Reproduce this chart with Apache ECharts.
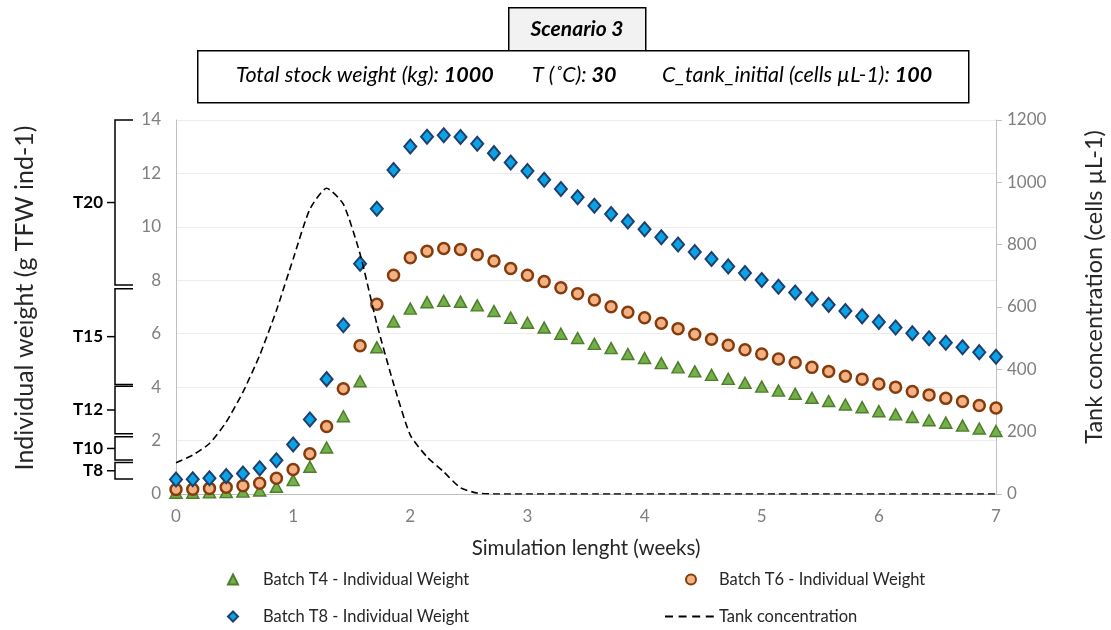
<!DOCTYPE html>
<html>
<head>
<meta charset="utf-8">
<script src="https://cdn.jsdelivr.net/npm/echarts@6/dist/echarts.min.js"></script>
<style>
  html, body { margin: 0; padding: 0; background: #ffffff; }
  #chart { width: 1111px; height: 630px; }
</style>
</head>
<body>
<div id="chart"></div>
<script>
// Simulation day (one sample per day, 7 days per week)
const days = [0, 1, 2, 3, 4, 5, 6, 7, 8, 9, 10, 11, 12, 13, 14, 15, 16, 17, 18, 19,
  20, 21, 22, 23, 24, 25, 26, 27, 28, 29, 30, 31, 32, 33, 34, 35, 36, 37, 38, 39,
  40, 41, 42, 43, 44, 45, 46, 47, 48, 49];

// Individual weight per batch (g TFW ind-1)
const batchT4 = [0.05, 0.05, 0.06, 0.07, 0.09, 0.13, 0.27, 0.52, 1.02, 1.74,
  2.91, 4.22, 5.49, 6.46, 6.94, 7.18, 7.23, 7.20, 7.06, 6.85,
  6.60, 6.41, 6.23, 6.00, 5.84, 5.62, 5.46, 5.24, 5.09, 4.90,
  4.74, 4.59, 4.46, 4.31, 4.16, 4.02, 3.87, 3.75, 3.60, 3.48,
  3.35, 3.25, 3.10, 2.98, 2.88, 2.76, 2.67, 2.56, 2.45, 2.36];
const batchT6 = [0.17, 0.18, 0.21, 0.25, 0.31, 0.40, 0.59, 0.92, 1.51, 2.53,
  3.94, 5.55, 7.10, 8.19, 8.84, 9.09, 9.19, 9.15, 8.96, 8.72,
  8.44, 8.19, 7.95, 7.72, 7.50, 7.26, 7.01, 6.80, 6.60, 6.39,
  6.19, 5.98, 5.79, 5.57, 5.40, 5.24, 5.05, 4.92, 4.74, 4.59,
  4.41, 4.30, 4.12, 4.00, 3.84, 3.71, 3.58, 3.46, 3.31, 3.22];
const batchT8 = [0.54, 0.55, 0.59, 0.67, 0.77, 0.96, 1.26, 1.85, 2.79, 4.30,
  6.32, 8.62, 10.68, 12.13, 13.01, 13.37, 13.43, 13.36, 13.11, 12.76,
  12.41, 12.09, 11.76, 11.42, 11.11, 10.79, 10.48, 10.20, 9.91, 9.61,
  9.34, 9.06, 8.80, 8.52, 8.27, 8.01, 7.76, 7.54, 7.29, 7.08,
  6.85, 6.65, 6.44, 6.23, 6.02, 5.83, 5.66, 5.49, 5.31, 5.14];

// Tank concentration (cells µL-1)
const tankConc = [100, 125, 162, 231, 327, 445, 589, 754, 914, 981,
  930, 770, 546, 354, 189, 119, 71, 20, 3, 0.5,
  0, 0, 0, 0, 0, 0, 0, 0, 0, 0,
  0, 0, 0, 0, 0, 0, 0, 0, 0, 0,
  0, 0, 0, 0, 0, 0, 0, 0, 0, 0];

// Size classes marked beside the weight axis (weight range of each class)
const sizeClasses = ['T20', 'T15', 'T12', 'T10', 'T8'];
const classTop = [14, 7.68, 4.03, 2.14, 1.18];
const classBottom = [7.82, 4.10, 2.26, 1.27, 0.56];

const FONT = 'Lato, "Open Sans", sans-serif';
const LABEL_GREY = '#7f7f7f';
const AXIS_GREY = '#bfbfbf';
const TEXT_DARK = '#262626';

const pairs = (ys) => days.map((d, i) => [d, ys[i]]);

// Bracket with a centre tick and class label, placed left of the weight axis
function renderBracket(params, api) {
  const top = api.coord([0, api.value(1)]);
  const bot = api.coord([0, api.value(2)]);
  const x0 = top[0];
  const barX = x0 - 61, hookX = x0 - 43, tickX = x0 - 69;
  const midY = (top[1] + bot[1]) / 2;
  return {
    type: 'group',
    children: [
      {
        type: 'polyline',
        shape: { points: [[hookX, top[1]], [barX, top[1]], [barX, bot[1]], [hookX, bot[1]]] },
        style: { stroke: '#000', lineWidth: 1.5, fill: null }
      },
      {
        type: 'line',
        shape: { x1: tickX, y1: midY, x2: barX, y2: midY },
        style: { stroke: '#000', lineWidth: 1.5 }
      },
      {
        type: 'text',
        x: tickX - 4, y: midY,
        style: {
          text: sizeClasses[params.dataIndex], align: 'right', verticalAlign: 'middle',
          fontFamily: FONT, fontWeight: 'bold', fontSize: 17, fill: '#000'
        }
      }
    ]
  };
}

const legendText = (padLeft) => ({
  fontFamily: FONT, fontSize: 16.5, color: TEXT_DARK, padding: [0, 0, 0, padLeft]
});
const legendBase = { orient: 'horizontal', padding: 0, itemHeight: 10, selectedMode: false };

const richTitle = {
  n: { fontFamily: FONT, fontSize: 21.5, fontStyle: 'italic', fill: '#000' },
  b: { fontFamily: FONT, fontSize: 21.5, fontStyle: 'italic', fontWeight: 'bold', fill: '#000' }
};

const chart = echarts.init(document.getElementById('chart'), null, { renderer: 'canvas' });
chart.setOption({
  animation: false,
  backgroundColor: '#ffffff',
  grid: { left: 176, right: 115, top: 120, bottom: 136, containLabel: false, outerBoundsMode: 'none' },
  graphic: [
    {
      type: 'rect', left: 508, top: 7,
      shape: { width: 137, height: 43 },
      style: { fill: '#f2f2f2', stroke: '#000', lineWidth: 1.5 }
    },
    {
      type: 'text', x: 577, y: 29,
      style: { text: 'Scenario 3', align: 'center', verticalAlign: 'middle',
        fontFamily: FONT, fontSize: 21, fontStyle: 'italic', fontWeight: 'bold', fill: '#000' }
    },
    {
      type: 'rect', left: 197, top: 50,
      shape: { width: 771, height: 52 },
      style: { fill: '#ffffff', stroke: '#000', lineWidth: 1.5 }
    },
    {
      type: 'text', x: 236, y: 75,
      style: { text: '{n|Total stock weight (kg): }{b|1000}', verticalAlign: 'middle', rich: richTitle }
    },
    {
      type: 'text', x: 532, y: 75,
      style: { text: '{n|T (˚C): }{b|30}', verticalAlign: 'middle', rich: richTitle }
    },
    {
      type: 'text', x: 662, y: 75,
      style: { text: '{n|C_tank_initial (cells µL-1): }{b|100}', verticalAlign: 'middle', rich: richTitle }
    }
  ],
  legend: [
    Object.assign({}, legendBase, { data: ['Batch T4 - Individual Weight'], left: 227, top: 571, itemWidth: 10, textStyle: legendText(20) }),
    Object.assign({}, legendBase, { data: ['Batch T6 - Individual Weight'], left: 685, top: 571, itemWidth: 10, textStyle: legendText(18) }),
    Object.assign({}, legendBase, { data: ['Batch T8 - Individual Weight'], left: 227, top: 608, itemWidth: 10, textStyle: legendText(20) }),
    Object.assign({}, legendBase, {
      data: [{ name: 'Tank concentration', lineStyle: { type: [8, 5.6] } }],
      left: 664, top: 608, itemWidth: 49, textStyle: legendText(0)
    })
  ],
  xAxis: {
    type: 'value', min: 0, max: 49, interval: 7,
    name: 'Simulation lenght (weeks)', nameLocation: 'middle', nameGap: 44,
    nameTextStyle: { fontFamily: FONT, fontSize: 20.5, color: TEXT_DARK },
    axisLine: { show: true, lineStyle: { color: AXIS_GREY, width: 1 } },
    axisTick: { show: false },
    splitLine: { show: false },
    axisLabel: { formatter: (v) => String(v / 7), fontFamily: FONT, fontSize: 17, color: LABEL_GREY, margin: 14 }
  },
  yAxis: [
    {
      type: 'value', min: 0, max: 14, interval: 2, position: 'left',
      name: 'Individual weight (g TFW ind-1)', nameLocation: 'middle', nameRotate: 90, nameGap: 139,
      nameTextStyle: { fontFamily: FONT, fontSize: 25, color: TEXT_DARK, padding: [0, 0, 0, 18] },
      axisLine: { show: true, lineStyle: { color: AXIS_GREY, width: 1 } },
      axisTick: { show: false },
      splitLine: { show: true, lineStyle: { color: '#ececec', width: 1 } },
      axisLabel: { fontFamily: FONT, fontSize: 17, color: LABEL_GREY, margin: 15 }
    },
    {
      type: 'value', min: 0, max: 1200, interval: 200, position: 'right',
      name: 'Tank concentration (cells µL-1)', nameLocation: 'middle', nameRotate: 90, nameGap: 86,
      nameTextStyle: { fontFamily: FONT, fontSize: 23.5, color: TEXT_DARK, padding: [0, 0, 0, 40] },
      axisLine: { show: true, lineStyle: { color: AXIS_GREY, width: 1 } },
      axisTick: { show: true, inside: false, length: 6, lineStyle: { color: AXIS_GREY } },
      splitLine: { show: false },
      axisLabel: { formatter: (v) => String(v), fontFamily: FONT, fontSize: 17, color: LABEL_GREY, margin: 11 }
    }
  ],
  series: [
    {
      name: 'Size classes', type: 'custom', renderItem: renderBracket, clip: false, silent: true,
      xAxisIndex: 0, yAxisIndex: 0, encode: { x: 0, y: [1, 2] },
      data: sizeClasses.map((c, i) => [0, classTop[i], classBottom[i]])
    },
    {
      name: 'Batch T4 - Individual Weight', type: 'scatter', yAxisIndex: 0,
      symbol: 'triangle', symbolSize: [12, 11],
      itemStyle: { color: '#74b04a', borderColor: '#4e7e2b', borderWidth: 1.5, opacity: 1 },
      data: pairs(batchT4), z: 3
    },
    {
      name: 'Batch T6 - Individual Weight', type: 'scatter', yAxisIndex: 0,
      symbol: 'circle', symbolSize: 11,
      itemStyle: { color: '#f4b183', borderColor: '#843c0c', borderWidth: 2.5, opacity: 1 },
      data: pairs(batchT6), z: 4
    },
    {
      name: 'Batch T8 - Individual Weight', type: 'scatter', yAxisIndex: 0,
      symbol: 'diamond', symbolSize: [12, 14],
      itemStyle: { color: '#0aa3e6', borderColor: '#1f3f6e', borderWidth: 2, opacity: 1 },
      data: pairs(batchT8), z: 5
    },
    {
      name: 'Tank concentration', type: 'line', yAxisIndex: 1,
      symbol: 'none', showSymbol: false, smooth: 0.2,
      lineStyle: { color: '#000', width: 1.6, type: [7, 4] },
      itemStyle: { color: 'rgba(0,0,0,0)', borderWidth: 0 },
      data: pairs(tankConc), z: 6
    }
  ]
});
</script>
</body>
</html>
